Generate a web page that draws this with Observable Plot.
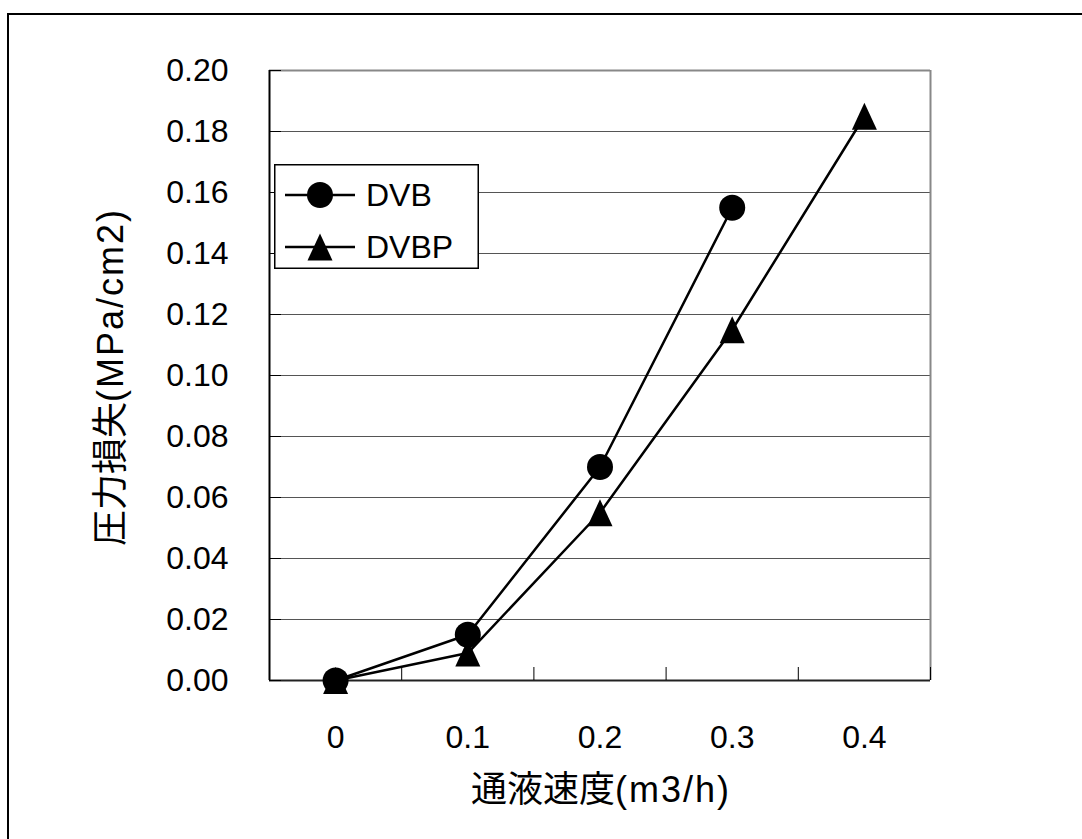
<!DOCTYPE html>
<html>
<head>
<meta charset="utf-8">
<script src="https://cdn.jsdelivr.net/npm/d3@7"></script>
<script src="https://cdn.jsdelivr.net/npm/@observablehq/plot@0.6"></script>
<style>
  html, body { margin: 0; padding: 0; background: white; }
  #wrap { position: relative; width: 1082px; height: 839px; overflow: hidden; background: white;
          font-family: "Liberation Sans", Arial, "Noto Sans CJK JP", sans-serif; color: black; }
  #frame { position: absolute; left: 7px; top: 13px; width: 1200px; height: 1000px; border: 2px solid black; box-sizing: border-box; }
  .title { position: absolute; white-space: nowrap; font-size: 36px; line-height: 1; }
  .title .lat { letter-spacing: 2px; }
  #ytitle { left: 111px; top: 377px; transform: translate(-50%, -50%) rotate(-90deg); }
  #xtitle { left: 601px; top: 790px; transform: translate(-50%, -50%); }
  #legend { position: absolute; left: 274px; top: 164px; }
</style>
</head>
<body>
<div id="wrap">
  <div id="frame"></div>
  <div id="chart"></div>
  <div id="ytitle" class="title">圧力損失<span class="lat">(MPa/cm2)</span></div>
  <div id="xtitle" class="title">通液速度<span class="lat">(m3/h)</span></div>
  <div id="legend"></div>
</div>
<script>
// ---- data ----
const xLabels = ["0", "0.1", "0.2", "0.3", "0.4"];
const seriesNames = ["DVB", "DVBP"];
const dvb = [0, 0.015, 0.07, 0.155];
const dvbp = [0, 0.009, 0.055, 0.115, 0.185];
const yTicks = [0, 0.02, 0.04, 0.06, 0.08, 0.10, 0.12, 0.14, 0.16, 0.18, 0.20];

const idx = xLabels.map((_, i) => i);
const bounds = d3.range(-0.5, xLabels.length, 1);
const dvbData = dvb.map((v, i) => ({i, v}));
const dvbpData = dvbp.map((v, i) => ({i, v}));

const triUp = {
  draw(ctx, size) {
    const s = Math.sqrt(size / Math.PI);
    const h = s * 1.35, w = s * 1.25;
    ctx.moveTo(0, -h); ctx.lineTo(w, h); ctx.lineTo(-w, h); ctx.closePath();
  }
};

const xMin = bounds[0], xMax = bounds[bounds.length - 1];
const yMin = yTicks[0], yMax = yTicks[yTicks.length - 1];

const chart = Plot.plot({
  width: 1082,
  height: 839,
  marginLeft: 269,
  marginRight: 152,
  marginTop: 70,
  marginBottom: 159,
  style: {background: "transparent", fontFamily: "'Liberation Sans', Arial, sans-serif", fontSize: "32px", color: "black"},
  x: {type: "linear", domain: [xMin, xMax]},
  y: {type: "linear", domain: [yMin, yMax]},
  marks: [
    Plot.ruleY(yTicks.slice(1, -1), {stroke: "#555", strokeWidth: 1}),
    Plot.ruleY([yMax], {stroke: "#888", strokeWidth: 2}),
    Plot.ruleX([xMax], {stroke: "#888", strokeWidth: 2}),
    Plot.ruleX([xMin], {stroke: "black", strokeWidth: 2}),
    Plot.ruleY([yMin], {stroke: "#222", strokeWidth: 2}),
    Plot.axisY(yTicks, {tickSize: -12, tickPadding: 53, tickFormat: d3.format(".2f"), stroke: "black", fill: "black", fontSize: 32, label: null}),
    Plot.axisX(bounds, {tickSize: -13, stroke: "black", fill: "none", label: null}),
    Plot.axisX(idx, {tickSize: 0, tickPadding: 45, tickFormat: i => xLabels[i], fill: "black", fontSize: 32, label: null}),
    Plot.line(dvbData, {x: "i", y: "v", stroke: "black", strokeWidth: 2.5}),
    Plot.line(dvbpData, {x: "i", y: "v", stroke: "black", strokeWidth: 2.5}),
    Plot.dot(dvbData, {x: "i", y: "v", symbol: "circle", r: 13, fill: "black", stroke: "none"}),
    Plot.dot(dvbpData, {x: "i", y: "v", symbol: triUp, r: 10, fill: "black", stroke: "none"})
  ]
});
document.getElementById("chart").appendChild(chart);

// ---- legend ----
const lw = 205, lh = 105;
const leg = d3.select("#legend").append("svg").attr("width", lw).attr("height", lh)
  .style("font-family", "'Liberation Sans', Arial, sans-serif");
leg.append("rect").attr("x", 0.75).attr("y", 0.75).attr("width", lw - 1.5).attr("height", lh - 1.5)
  .attr("fill", "white").attr("stroke", "black").attr("stroke-width", 1.5);
const symbols = [d3.symbolCircle, triUp];
const radii = [13, 10];
seriesNames.forEach((name, k) => {
  const cy = 31 + k * 52;
  const g = leg.append("g");
  g.append("line").attr("x1", 11).attr("x2", 81).attr("y1", cy).attr("y2", cy).attr("stroke", "black").attr("stroke-width", 2.5);
  g.append("path").attr("d", d3.symbol(symbols[k], Math.PI * radii[k] * radii[k])())
    .attr("transform", `translate(46,${cy})`).attr("fill", "black");
  g.append("text").attr("x", 92).attr("y", cy).attr("dy", "0.35em").attr("font-size", 32).text(name);
});
</script>
</body>
</html>
